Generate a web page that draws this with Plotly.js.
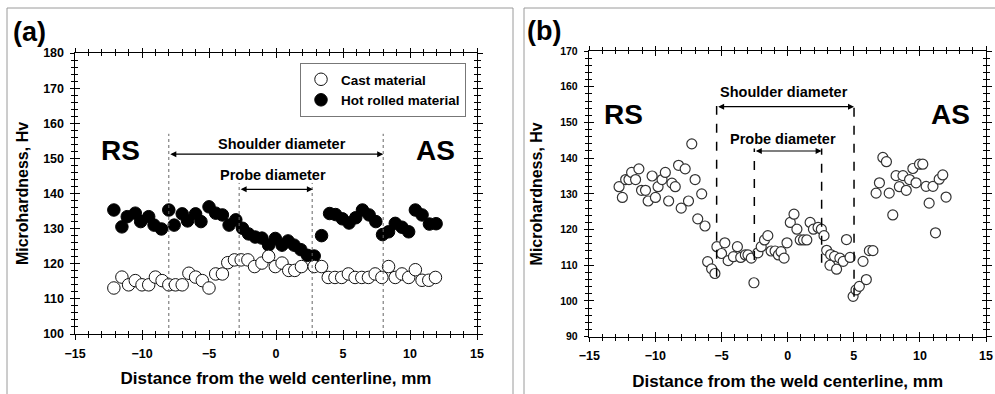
<!DOCTYPE html>
<html>
<head>
<meta charset="utf-8">
<script src="https://cdn.plot.ly/plotly-3.0.1.min.js"></script>
<style>html,body{margin:0;padding:0;background:#fff}#chart{width:995px;height:394px}</style>
</head>
<body>
<div id="chart"></div>
<script>
// ---------- Panel (a) data ----------
const hotX = [-12.1,-11.5,-11.1,-10.5,-10.1,-9.5,-9.1,-8.55,-8.0,-7.6,-7.0,-6.6,-6.0,-5.6,-5.0,-4.5,-4.0,-3.5,-3.0,-2.5,-2.05,-1.55,-1.05,-0.55,-0.05,0.45,0.9,1.35,1.85,2.35,2.85,3.4,4.0,4.45,4.95,5.45,5.95,6.45,6.95,7.45,7.95,8.4,8.9,9.4,9.9,10.4,10.9,11.45,11.95];
const hotY = [135.3,130.5,133.4,134.4,132,133.4,131,129.9,135.3,131,134.2,132.2,134.2,132,136.2,134.4,133.9,131,132.5,130.1,128.5,127.6,127.3,125.3,127.2,125.3,126.5,125.3,124,122.4,122.2,128,134.3,134,132.8,131.6,133.1,135.3,133.9,132,128.3,129.1,131.5,130.4,129.1,135.3,133.9,131.3,131.4];
const castX = [-12.1,-11.5,-11.0,-10.5,-10.0,-9.5,-9.0,-8.5,-8.0,-7.5,-7.0,-6.5,-6.0,-5.5,-5.0,-4.5,-4.0,-3.6,-3.1,-2.6,-2.1,-1.6,-1.05,-0.55,-0.05,0.45,0.95,1.4,1.9,2.85,3.4,3.9,4.4,4.9,5.4,5.9,6.4,6.9,7.4,7.9,8.4,8.9,9.4,9.9,10.4,10.9,11.4,11.9];
const castY = [113.1,116.2,114,115.2,114,114,116.2,115.2,114,114,114,117.3,116.2,115.2,113.1,117.1,117.1,120.3,121.1,121.1,121.1,119.2,120.2,122.1,119.2,120.2,118.1,118.1,119.2,119.2,119.2,116.1,116.1,116.1,117.1,116.1,116.1,116.1,117.1,116.1,119.2,116.1,117.1,116.1,118.3,115.3,115.3,116.1];
const seriesNames = ['Cast material', 'Hot rolled material'];

// ---------- Panel (b) data ----------
const bX = [-12.75,-12.5,-12.25,-12.0,-11.8,-11.5,-11.25,-11.05,-10.75,-10.55,-10.25,-10.0,-9.8,-9.5,-9.25,-9.0,-8.75,-8.5,-8.25,-8.05,-7.75,-7.5,-7.25,-7.0,-6.8,-6.5,-6.25,-6.05,-5.75,-5.5,-5.35,
  -5.0,-4.75,-4.5,-4.1,-3.8,-3.55,-3.2,-3.0,-2.75,-2.55,-2.25,-2.0,-1.75,-1.5,-1.25,-0.95,-0.7,-0.5,-0.27,-0.05,0.2,0.48,0.7,0.95,1.2,1.45,1.7,1.95,2.3,2.55,2.75,2.95,3.25,3.2,3.55,3.7,3.95,4.2,4.45,4.72,4.95,5.17,5.42,5.7,5.95,6.18,6.45,
  6.69,6.94,7.2,7.47,7.68,7.95,8.2,8.45,8.72,8.97,9.22,9.47,9.71,9.97,10.22,10.47,10.7,10.99,11.18,11.46,11.73,11.98];
const bY = [132,129,134,134,136,134,137,131,131,128,135,129,132,134,136,128,133,132,138,126,137,128,144,134,123,130,121,111,109,107.7,115.2,
  113.3,116.3,111.3,112.4,115.2,112.2,112.9,112.9,112.0,105.1,113.5,115.2,117.1,118.3,114.0,114.0,112.9,113.8,112.0,116.3,122.0,124.3,120.1,117.1,117.1,117.1,122.0,120.1,120.6,120.1,118.3,114.2,113.0,110.0,112.5,108.9,112.0,111.1,117.2,112.2,101.3,103.1,104.1,111.1,106.0,114.1,114.1,
  130.2,133.1,140.2,139.0,130.2,124.1,135.1,132.0,135.1,131.0,134.0,137.1,133.1,138.3,138.3,132.1,127.4,132.1,119.1,134.1,135.3,129.1];

// ---------- Axis settings ----------
const xRange = [-15, 15];
const yRangeA = [100, 180];
const yRangeB = [90, 170];
const xTitle = 'Distance from the weld centerline, mm';
const yTitle = 'Microhardness, Hv';

const FONT = 'Liberation Sans, Arial, Helvetica, sans-serif';
const W = 995, H = 394;
const px = v => v / W;
const py = v => 1 - v / H;

const domXA = [px(75), px(477)];
const domYA = [py(334), py(53)];
const domXB = [px(589.3), px(986)];
const domYB = [py(336.7), py(51)];

const tickFont = {family: FONT, size: 12.5, color: '#000', weight: 'bold'};
const tickFontSmall = {family: FONT, size: 10.5, color: '#000', weight: 'bold'};
const titleFont = {family: FONT, size: 17, color: '#000', weight: 'bold'};
const ytitleFont = {family: FONT, size: 16, color: '#000', weight: 'bold'};

function mainAxis(domain, range, dtick, minor, title, tfont, standoff, anchor, tkfont, tkstand) {
  return {
    domain, range, anchor, autorange: false, tick0: 0, dtick,
    ticks: 'outside', ticklen: 4.5, tickwidth: 1, tickcolor: '#000',
    mirror: 'ticks', showline: true, linecolor: '#000', linewidth: 1,
    showgrid: false, zeroline: false, fixedrange: true,
    minor: {dtick: minor, ticks: 'outside', ticklen: 3, tickwidth: 1, tickcolor: '#000', showgrid: false},
    tickfont: tkfont, ticklabelstandoff: tkstand,
    title: {text: title, font: tfont, standoff},
    automargin: false
  };
}
function overlayAxis(over, domain, range, dtick, minor, anchor) {
  return {
    overlaying: over, domain, range, anchor, autorange: false, tick0: 0, dtick,
    ticks: 'inside', ticklen: 4.5, tickwidth: 1, tickcolor: '#000',
    mirror: 'ticks', showline: false, showticklabels: false,
    showgrid: false, zeroline: false, fixedrange: true,
    minor: {dtick: minor, ticks: 'inside', ticklen: 3, tickwidth: 1, tickcolor: '#000', showgrid: false},
    automargin: false
  };
}

const traces = [
  {type: 'scatter', mode: 'markers', name: seriesNames[1], x: hotX, y: hotY, xaxis: 'x', yaxis: 'y',
   marker: {symbol: 'circle', size: 12.5, color: '#000', line: {color: '#000', width: 1}}, hoverinfo: 'x+y'},
  {type: 'scatter', mode: 'markers', name: seriesNames[0], x: castX, y: castY, xaxis: 'x', yaxis: 'y',
   marker: {symbol: 'circle', size: 12.5, color: '#fff', line: {color: '#111', width: 1}}, hoverinfo: 'x+y'},
  {type: 'scatter', mode: 'markers', name: 'b', showlegend: false, x: bX, y: bY, xaxis: 'x2', yaxis: 'y2',
   marker: {symbol: 'circle', size: 10, color: '#fff', line: {color: '#333', width: 1.2}}, hoverinfo: 'x+y'},
  {type: 'scatter', mode: 'markers', x: [], y: [], xaxis: 'x3', yaxis: 'y3', showlegend: false, hoverinfo: 'skip'},
  {type: 'scatter', mode: 'markers', x: [], y: [], xaxis: 'x4', yaxis: 'y4', showlegend: false, hoverinfo: 'skip'}
];

function txt(xref, yref, x, y, text, size) {
  return {xref, yref, x, y, text, showarrow: false, xanchor: 'center', yanchor: 'middle',
          font: {family: FONT, size, color: '#000', weight: 'bold'}};
}
function dblArrow(xref, yref, x0, x1, y, w) {
  return {xref, yref, axref: xref, ayref: yref, x: x1, y, ax: x0, ay: y, text: '',
          showarrow: true, arrowhead: 2, startarrowhead: 2, arrowside: 'end+start',
          arrowsize: 1, startarrowsize: 1, arrowwidth: w, arrowcolor: '#000', standoff: 0, startstandoff: 0};
}

const annotations = [
  txt('paper', 'paper', px(29), py(32), '(a)', 27),
  txt('paper', 'paper', px(544), py(31), '(b)', 27),
  txt('x', 'y', -11.6, 152.2, 'RS', 28),
  txt('x', 'y', 11.9, 152.2, 'AS', 28),
  txt('x', 'y', 0.43, 154.1, 'Shoulder diameter', 14.5),
  txt('x', 'y', -0.26, 145.3, 'Probe diameter', 14.5),
  dblArrow('x', 'y', -8, 8, 151.2, 1.2),
  dblArrow('x', 'y', -2.75, 2.75, 141.2, 1.2),
  txt('x2', 'y2', -12.45, 152.1, 'RS', 28),
  txt('x2', 'y2', 12.28, 152.1, 'AS', 28),
  txt('x2', 'y2', -0.28, 158.4, 'Shoulder diameter', 14.5),
  txt('x2', 'y2', -0.38, 145.5, 'Probe diameter', 14.5),
  dblArrow('x2', 'y2', -5.37, 5.02, 154.4, 1.2),
  dblArrow('x2', 'y2', -2.52, 2.57, 142.0, 1.2)
];

const dotLine = {color: '#666', width: 1, dash: 'dot'};
const dashLine = {color: '#000', width: 1.5, dash: 'dash'};
const shapes = [
  {type: 'rect', xref: 'paper', yref: 'paper', x0: px(7), x1: px(513), y0: -0.2, y1: py(8), line: {color: '#9a9a9a', width: 1}, layer: 'below'},
  {type: 'rect', xref: 'paper', yref: 'paper', x0: px(524), x1: 1.2, y0: -0.2, y1: py(8), line: {color: '#9a9a9a', width: 1}, layer: 'below'},
  {type: 'line', xref: 'x', yref: 'y', x0: -8, x1: -8, y0: 100, y1: 157, line: dotLine},
  {type: 'line', xref: 'x', yref: 'y', x0: 8, x1: 8, y0: 100, y1: 157, line: dotLine},
  {type: 'line', xref: 'x', yref: 'y', x0: -2.75, x1: -2.75, y0: 100, y1: 143, line: dotLine},
  {type: 'line', xref: 'x', yref: 'y', x0: 2.7, x1: 2.7, y0: 100, y1: 143, line: dotLine},
  {type: 'line', xref: 'x2', yref: 'y2', x0: -5.37, x1: -5.37, y0: 106.8, y1: 154.6, line: dashLine},
  {type: 'line', xref: 'x2', yref: 'y2', x0: 5.02, x1: 5.02, y0: 101.2, y1: 154.6, line: dashLine},
  {type: 'line', xref: 'x2', yref: 'y2', x0: -2.52, x1: -2.52, y0: 111.5, y1: 142.7, line: dashLine},
  {type: 'line', xref: 'x2', yref: 'y2', x0: 2.57, x1: 2.57, y0: 110.7, y1: 142.7, line: dashLine}
];

const layout = {
  width: W, height: H,
  margin: {l: 0, r: 0, t: 0, b: 0, pad: 0},
  paper_bgcolor: '#fff', plot_bgcolor: 'rgba(0,0,0,0)',
  showlegend: true,
  legend: {x: px(300), y: py(63), xanchor: 'left', yanchor: 'top', traceorder: 'reversed',
           bgcolor: '#fff', bordercolor: '#777', borderwidth: 1,
           font: {family: FONT, size: 13.5, color: '#000', weight: 'bold'}, itemsizing: 'trace', tracegroupgap: 0},
  xaxis: mainAxis(domXA, xRange, 5, 1, xTitle, titleFont, 12, 'y', tickFont, 3),
  yaxis: mainAxis(domYA, yRangeA, 10, 2, yTitle, ytitleFont, 10, 'x', tickFont, 3),
  xaxis2: mainAxis(domXB, xRange, 5, 1, xTitle, titleFont, 12, 'y2', tickFont, 3),
  yaxis2: mainAxis(domYB, yRangeB, 10, 2, yTitle, ytitleFont, 13, 'x2', tickFontSmall, 4),
  xaxis3: overlayAxis('x', domXA, xRange, 5, 1, 'y3'),
  yaxis3: overlayAxis('y', domYA, yRangeA, 10, 2, 'x3'),
  xaxis4: overlayAxis('x2', domXB, xRange, 5, 1, 'y4'),
  yaxis4: overlayAxis('y2', domYB, yRangeB, 10, 2, 'x4'),
  annotations, shapes
};

Plotly.newPlot('chart', traces, layout, {displayModeBar: false, staticPlot: true});
</script>
</body>
</html>
